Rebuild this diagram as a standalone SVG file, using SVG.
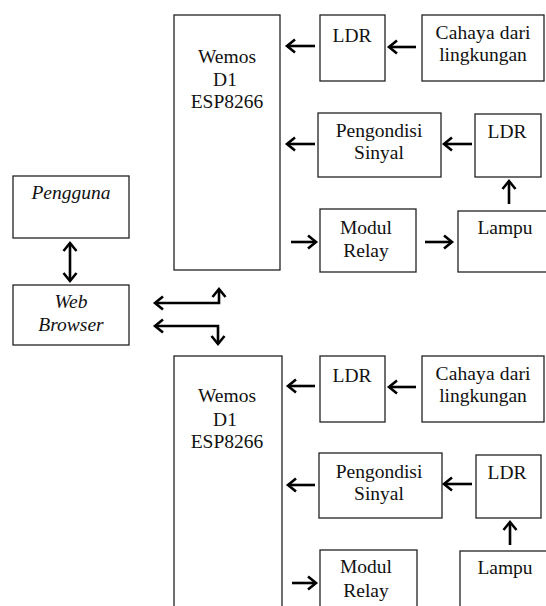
<svg xmlns="http://www.w3.org/2000/svg" width="546" height="606" viewBox="0 0 546 606">
<style>
.box{fill:#fff;stroke:#222;stroke-width:1.3}
text{font-family:"Liberation Serif","Times New Roman",serif;font-size:19.5px;fill:#111;text-anchor:middle}
.it{font-style:italic}
.c{fill:none;stroke:#000;stroke-width:2.6;marker-end:url(#ah)}
.d{marker-start:url(#ah)}
</style>
<defs>
<marker id="ah" markerUnits="userSpaceOnUse" viewBox="-11 -9 14 18" refX="0" refY="0" markerWidth="14" markerHeight="18" orient="auto-start-reverse">
<path d="M-8,-6.5 L0,0 L-8,6.5" fill="none" stroke="#000" stroke-width="2.6" stroke-linejoin="miter"/>
</marker>
</defs>
<rect width="546" height="606" fill="#fff"/>
<g id="wemos1"><rect class="box" x="174" y="15" width="106" height="255"/><text x="227" y="63">Wemos</text><text x="225" y="86">D1</text><text x="227" y="108">ESP8266</text></g>
<g id="ldr1"><rect class="box" x="320" y="15" width="65" height="66"/><text x="352" y="42">LDR</text></g>
<g id="cahaya1"><rect class="box" x="422" y="15" width="122" height="66"/><text x="483" y="39" textLength="95" lengthAdjust="spacing">Cahaya dari</text><text x="483" y="61">lingkungan</text></g>
<g id="pengondisi1"><rect class="box" x="318" y="113" width="123" height="64"/><text x="379" y="137">Pengondisi</text><text x="379" y="159">Sinyal</text></g>
<g id="ldr2"><rect class="box" x="475" y="114" width="66" height="63"/><text x="507" y="138">LDR</text></g>
<g id="relay1"><rect class="box" x="320" y="209" width="96" height="63"/><text x="366" y="234">Modul</text><text x="366" y="257">Relay</text></g>
<g id="lampu1"><rect class="box" x="458" y="211" width="95" height="61"/><text x="505" y="234">Lampu</text></g>
<g id="pengguna"><rect class="box" x="13" y="176" width="116" height="62"/><text class="it" x="71" y="199">Pengguna</text></g>
<g id="browser"><rect class="box" x="13" y="285" width="116" height="60"/><text class="it" x="71" y="308">Web</text><text class="it" x="71" y="331">Browser</text></g>
<g id="wemos2"><rect class="box" x="174" y="356" width="108" height="260"/><text x="227" y="402">Wemos</text><text x="225" y="426">D1</text><text x="227" y="448">ESP8266</text></g>
<g id="ldr3"><rect class="box" x="320" y="356" width="65" height="66"/><text x="352" y="382">LDR</text></g>
<g id="cahaya2"><rect class="box" x="422" y="356" width="122" height="66"/><text x="483" y="380" textLength="95" lengthAdjust="spacing">Cahaya dari</text><text x="483" y="402">lingkungan</text></g>
<g id="pengondisi2"><rect class="box" x="319" y="453" width="123" height="65"/><text x="379" y="478">Pengondisi</text><text x="379" y="500">Sinyal</text></g>
<g id="ldr4"><rect class="box" x="476" y="455" width="65" height="63"/><text x="507" y="479">LDR</text></g>
<g id="relay2"><rect class="box" x="320" y="550" width="97" height="66"/><text x="366" y="573">Modul</text><text x="366" y="597">Relay</text></g>
<g id="lampu2"><rect class="box" x="460" y="551" width="95" height="65"/><text x="505" y="574">Lampu</text></g>
<g id="connectors">
<path class="c" d="M315,46 H287"/>
<path class="c" d="M416,47 H389"/>
<path class="c" d="M315,144 H287"/>
<path class="c" d="M472,144 H444"/>
<path class="c" d="M509,204 V181"/>
<path class="c" d="M291,242 H316"/>
<path class="c" d="M425,242 H452"/>
<path class="c d" d="M70,243 V281"/>
<path class="c d" d="M155,303 H219 V289"/>
<path class="c d" d="M155,326 H218 V344"/>
<path class="c" d="M315,386 H288"/>
<path class="c" d="M416,387 H389"/>
<path class="c" d="M315,485 H288"/>
<path class="c" d="M472,484 H444"/>
<path class="c" d="M510,545 V522"/>
<path class="c" d="M292,583 H316"/>
</g>
</svg>
